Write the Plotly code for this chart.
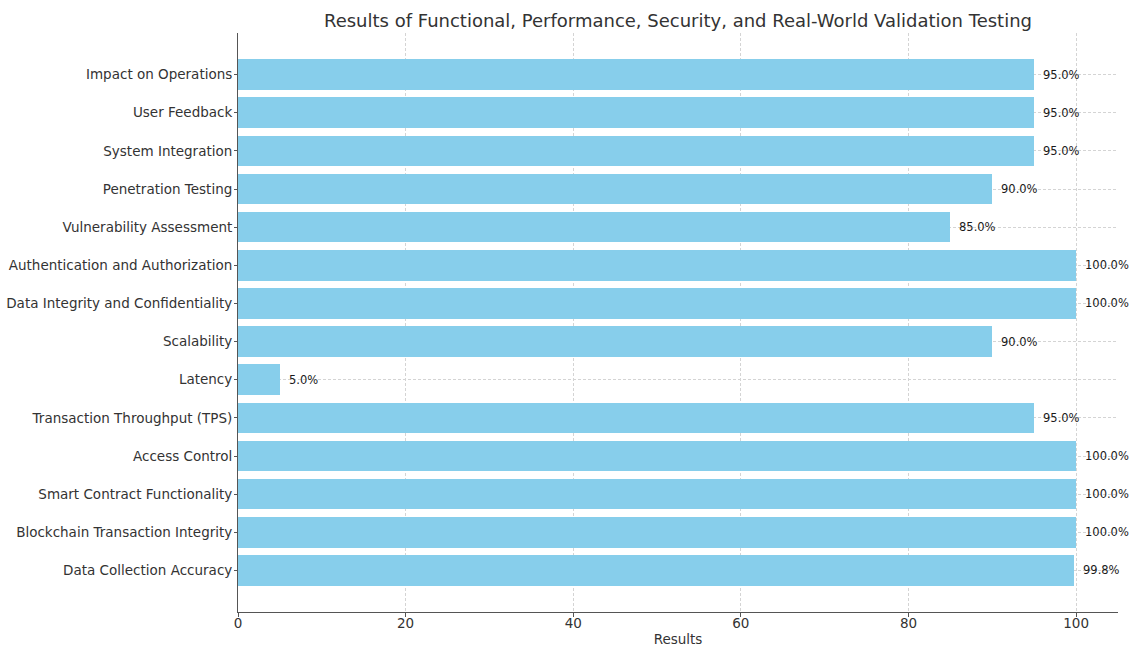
import plotly.graph_objects as go

categories = [
    "Data Collection Accuracy",
    "Blockchain Transaction Integrity",
    "Smart Contract Functionality",
    "Access Control",
    "Transaction Throughput (TPS)",
    "Latency",
    "Scalability",
    "Data Integrity and Confidentiality",
    "Authentication and Authorization",
    "Vulnerability Assessment",
    "Penetration Testing",
    "System Integration",
    "User Feedback",
    "Impact on Operations",
]
values = [99.8, 100, 100, 100, 95, 5, 90, 100, 100, 85, 90, 95, 95, 95]
labels = [f"{v:.1f}%" for v in values]
x_ticks = [0, 20, 40, 60, 80, 100]

font = "DejaVu Sans, Liberation Sans, sans-serif"

fig = go.Figure()
fig.add_trace(go.Bar(
    x=values, y=list(range(len(categories))), orientation="h",
    width=0.8, marker=dict(color="#87CEEB", line=dict(width=0)),
    hoverinfo="skip",
))

for i, (v, lab) in enumerate(zip(values, labels)):
    fig.add_annotation(x=v + 0.8, y=i, text=lab, showarrow=False,
                       xanchor="left", yanchor="middle",
                       font=dict(family=font, size=11.5, color="#1a1a1a"))

fig.update_layout(
    width=1133, height=648,
    margin=dict(l=238, r=15, t=33, b=36),
    paper_bgcolor="white", plot_bgcolor="white",
    showlegend=False,
    bargap=0,
    title=dict(text="Results of Functional, Performance, Security, and Real-World Validation Testing",
               x=(238 + 1118) / 2 / 1133, xanchor="center", y=0.968, yanchor="middle",
               font=dict(family=font, size=18, color="#333")),
    font=dict(family=font, size=13.5, color="#333"),
)
fig.update_xaxes(
    range=[0, 105], tickvals=x_ticks, ticktext=[str(t) for t in x_ticks],
    showgrid=True, gridcolor="#d4d4d4", griddash="3px,2px", gridwidth=1,
    showline=True, linecolor="#555", linewidth=1,
    ticks="outside", ticklen=4, tickcolor="#555",
    zeroline=False, automargin=False, ticklabelstandoff=-5,
    title=dict(text="Results", font=dict(family=font, size=13.5, color="#333"), standoff=4),
    tickfont=dict(family=font, size=13.5, color="#333"),
)
fig.update_yaxes(
    range=[-1.09, 14.09],
    tickvals=list(range(len(categories))), ticktext=categories,
    showgrid=True, gridcolor="#d4d4d4", griddash="3px,2px", gridwidth=1,
    showline=True, linecolor="#555", linewidth=1,
    ticks="outside", ticklen=3, tickcolor="#555",
    zeroline=False, automargin=False, ticklabelstandoff=-1,
    tickfont=dict(family=font, size=13.5, color="#333"),
)

fig.write_html("out.html")
